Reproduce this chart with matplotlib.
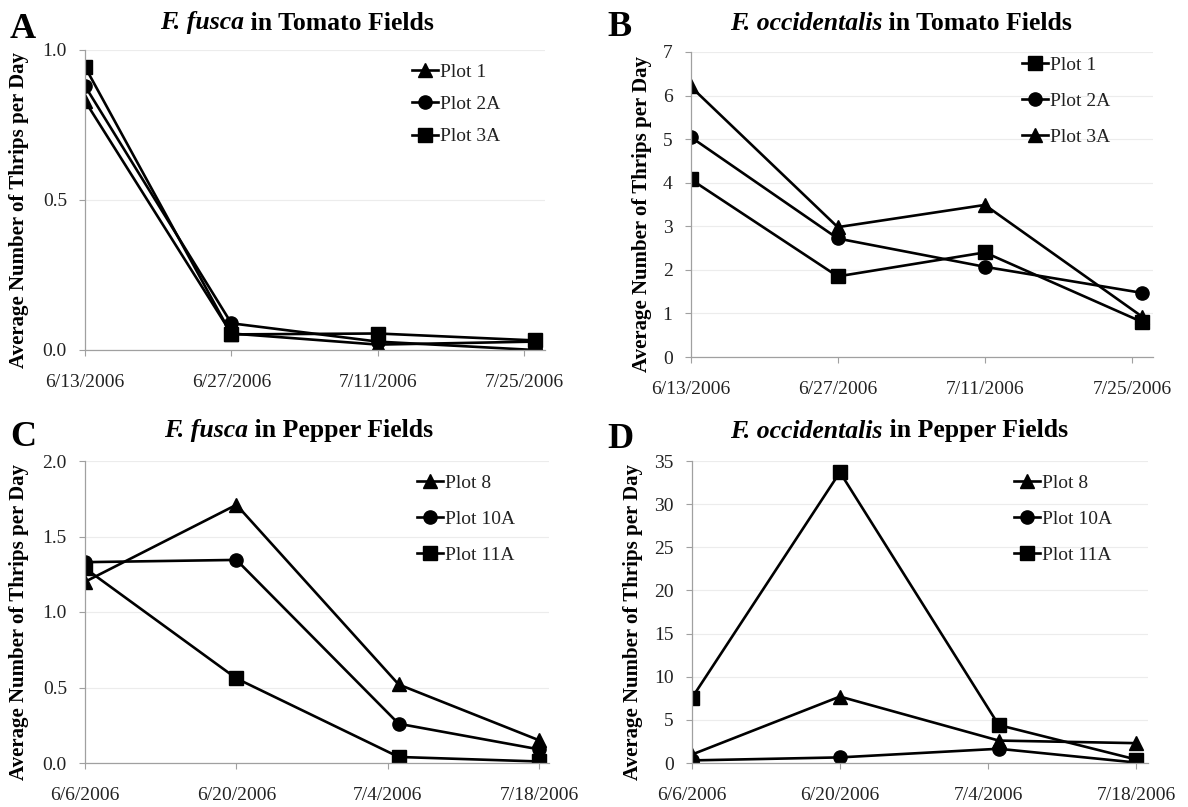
import matplotlib
matplotlib.use('Agg')
import matplotlib.pyplot as plt
import matplotlib.dates as mdates
from datetime import date

plt.rcParams['font.family'] = ['Liberation Serif', 'DejaVu Serif']

# panel A / B : tomato fields
tomato_dates = [date(2006, 6, 13), date(2006, 6, 27), date(2006, 7, 11), date(2006, 7, 26)]
tomato_ticks = [date(2006, 6, 13), date(2006, 6, 27), date(2006, 7, 11), date(2006, 7, 25)]
tomato_ticklabels = ['6/13/2006', '6/27/2006', '7/11/2006', '7/25/2006']

fusca_tomato_plot1 = [0.83, 0.055, 0.018, 0.028]
fusca_tomato_plot2a = [0.88, 0.089, 0.028, 0.0]
fusca_tomato_plot3a = [0.944, 0.052, 0.055, 0.032]

occ_tomato_plot1 = [4.08, 1.85, 2.40, 0.80]
occ_tomato_plot2a = [5.05, 2.72, 2.07, 1.47]
occ_tomato_plot3a = [6.21, 2.98, 3.49, 0.92]

# panel C / D : pepper fields
pepper_dates = [date(2006, 6, 6), date(2006, 6, 20), date(2006, 7, 5), date(2006, 7, 18)]
pepper_ticks = [date(2006, 6, 6), date(2006, 6, 20), date(2006, 7, 4), date(2006, 7, 18)]
pepper_ticklabels = ['6/6/2006', '6/20/2006', '7/4/2006', '7/18/2006']

fusca_pepper_plot8 = [1.20, 1.71, 0.52, 0.15]
fusca_pepper_plot10a = [1.33, 1.345, 0.26, 0.09]
fusca_pepper_plot11a = [1.29, 0.56, 0.04, 0.01]

occ_pepper_plot8 = [0.97, 7.7, 2.6, 2.3]
occ_pepper_plot10a = [0.3, 0.65, 1.65, 0.05]
occ_pepper_plot11a = [7.5, 33.7, 4.4, 0.4]

fig = plt.figure(figsize=(11.88, 8.07), dpi=100)
W, H = 1188, 807


def make_ax(l, t, r, b):
    return fig.add_axes([l / W, 1 - b / H, (r - l) / W, (b - t) / H])


def style(ax, ticks, ticklabels, x0, days, ylim, yticks, yfmt, ylab_x):
    d0 = mdates.date2num(x0)
    ax.set_xlim(d0, d0 + days)
    ax.set_xticks([mdates.date2num(t) for t in ticks])
    ax.set_xticklabels(ticklabels, fontsize=14)
    ax.set_ylim(*ylim)
    ax.set_yticks(yticks)
    ax.set_yticklabels([yfmt.format(v) for v in yticks], fontsize=14)
    ax.grid(axis='y', color='#ececec', linewidth=0.8)
    ax.set_axisbelow(True)
    for s in ['top', 'right']:
        ax.spines[s].set_visible(False)
    for s in ['left', 'bottom']:
        ax.spines[s].set_color('#a0a0a0')
        ax.spines[s].set_linewidth(0.9)
    ax.tick_params(axis='x', colors='#a0a0a0', length=4, width=0.8, labelcolor='#222222', pad=13)
    ax.tick_params(axis='y', colors='#a0a0a0', length=4, width=0.8, labelcolor='#222222', pad=9)
    ax.set_ylabel('Average Number of Thrips per Day', fontsize=15, fontweight='bold')
    pos = ax.get_position()
    ax.yaxis.set_label_coords(ylab_x / W, pos.y0 + pos.height / 2 - 0.012, transform=fig.transFigure)


def title(species, rest, letter, cx, cy, lx, ly):
    t1 = fig.text(0, 0, species, fontsize=18.5, fontweight='bold', fontstyle='italic')
    t2 = fig.text(0, 0, ' ' + rest, fontsize=18.5, fontweight='bold')
    r = fig.canvas.get_renderer()
    w1 = t1.get_window_extent(r).width
    w2 = t2.get_window_extent(r).width
    x = cx - (w1 + w2) / 2
    t1.set_position((x / W, 1 - cy / H))
    t2.set_position(((x + w1) / W, 1 - cy / H))
    t1.set_va('center')
    t2.set_va('center')
    fig.text(lx / W, 1 - ly / H, letter, fontsize=26, fontweight='bold', va='center', ha='left')


kw = dict(color='black', linewidth=1.9, markersize=9.5)

# A
axA = make_ax(85, 50, 545, 350)
axA.plot(tomato_dates, fusca_tomato_plot1, marker='^', label='Plot 1', **kw)
axA.plot(tomato_dates, fusca_tomato_plot2a, marker='o', label='Plot 2A', **kw)
axA.plot(tomato_dates, fusca_tomato_plot3a, marker='s', label='Plot 3A', **kw)
style(axA, tomato_ticks, tomato_ticklabels, tomato_ticks[0], 44.0, (0, 1.0), [0, 0.5, 1.0], '{:.1f}', 29)
title('F. fusca', 'in Tomato Fields', 'A', 297, 23, 10, 29)

# B
axB = make_ax(690.6, 52, 1153, 357)
axB.plot(tomato_dates, occ_tomato_plot1, marker='s', label='Plot 1', **kw)
axB.plot(tomato_dates, occ_tomato_plot2a, marker='o', label='Plot 2A', **kw)
axB.plot(tomato_dates, occ_tomato_plot3a, marker='^', label='Plot 3A', **kw)
style(axB, tomato_ticks, tomato_ticklabels, tomato_ticks[0], 44.0, (0, 7), list(range(0, 8)), '{:d}', 652)
title('F. occidentalis', 'in Tomato Fields', 'B', 901, 23, 607, 27)

# C
axC = make_ax(85, 461, 549, 763)
axC.plot(pepper_dates, fusca_pepper_plot8, marker='^', label='Plot 8', **kw)
axC.plot(pepper_dates, fusca_pepper_plot10a, marker='o', label='Plot 10A', **kw)
axC.plot(pepper_dates, fusca_pepper_plot11a, marker='s', label='Plot 11A', **kw)
style(axC, pepper_ticks, pepper_ticklabels, pepper_ticks[0], 42.9, (0, 2.0), [0, 0.5, 1.0, 1.5, 2.0], '{:.1f}', 29)
title('F. fusca', 'in Pepper Fields', 'C', 299, 431, 10, 437)

# D
axD = make_ax(691.7, 461, 1148, 763)
axD.plot(pepper_dates, occ_pepper_plot8, marker='^', label='Plot 8', **kw)
axD.plot(pepper_dates, occ_pepper_plot10a, marker='o', label='Plot 10A', **kw)
axD.plot(pepper_dates, occ_pepper_plot11a, marker='s', label='Plot 11A', **kw)
style(axD, pepper_ticks, pepper_ticklabels, pepper_ticks[0], 43.1, (0, 35), list(range(0, 36, 5)), '{:d}', 643)
title('F. occidentalis', 'in Pepper Fields', 'D', 899, 431, 607, 439)

legend_spots = [(412, 63, 0.76), (1022, 56, 0.95), (417, 474, 0.96), (1014, 474, 0.96)]
for ax, (lx, ly, sp) in zip([axA, axB, axC, axD], legend_spots):
    ax.legend(loc='upper left', bbox_to_anchor=(lx / W, 1 - ly / H), bbox_transform=fig.transFigure,
              frameon=False, fontsize=14, handlelength=1.35, handletextpad=0.08,
              labelspacing=sp, borderpad=0, borderaxespad=0, labelcolor='#222222')

fig.savefig('out.png', dpi=100)
